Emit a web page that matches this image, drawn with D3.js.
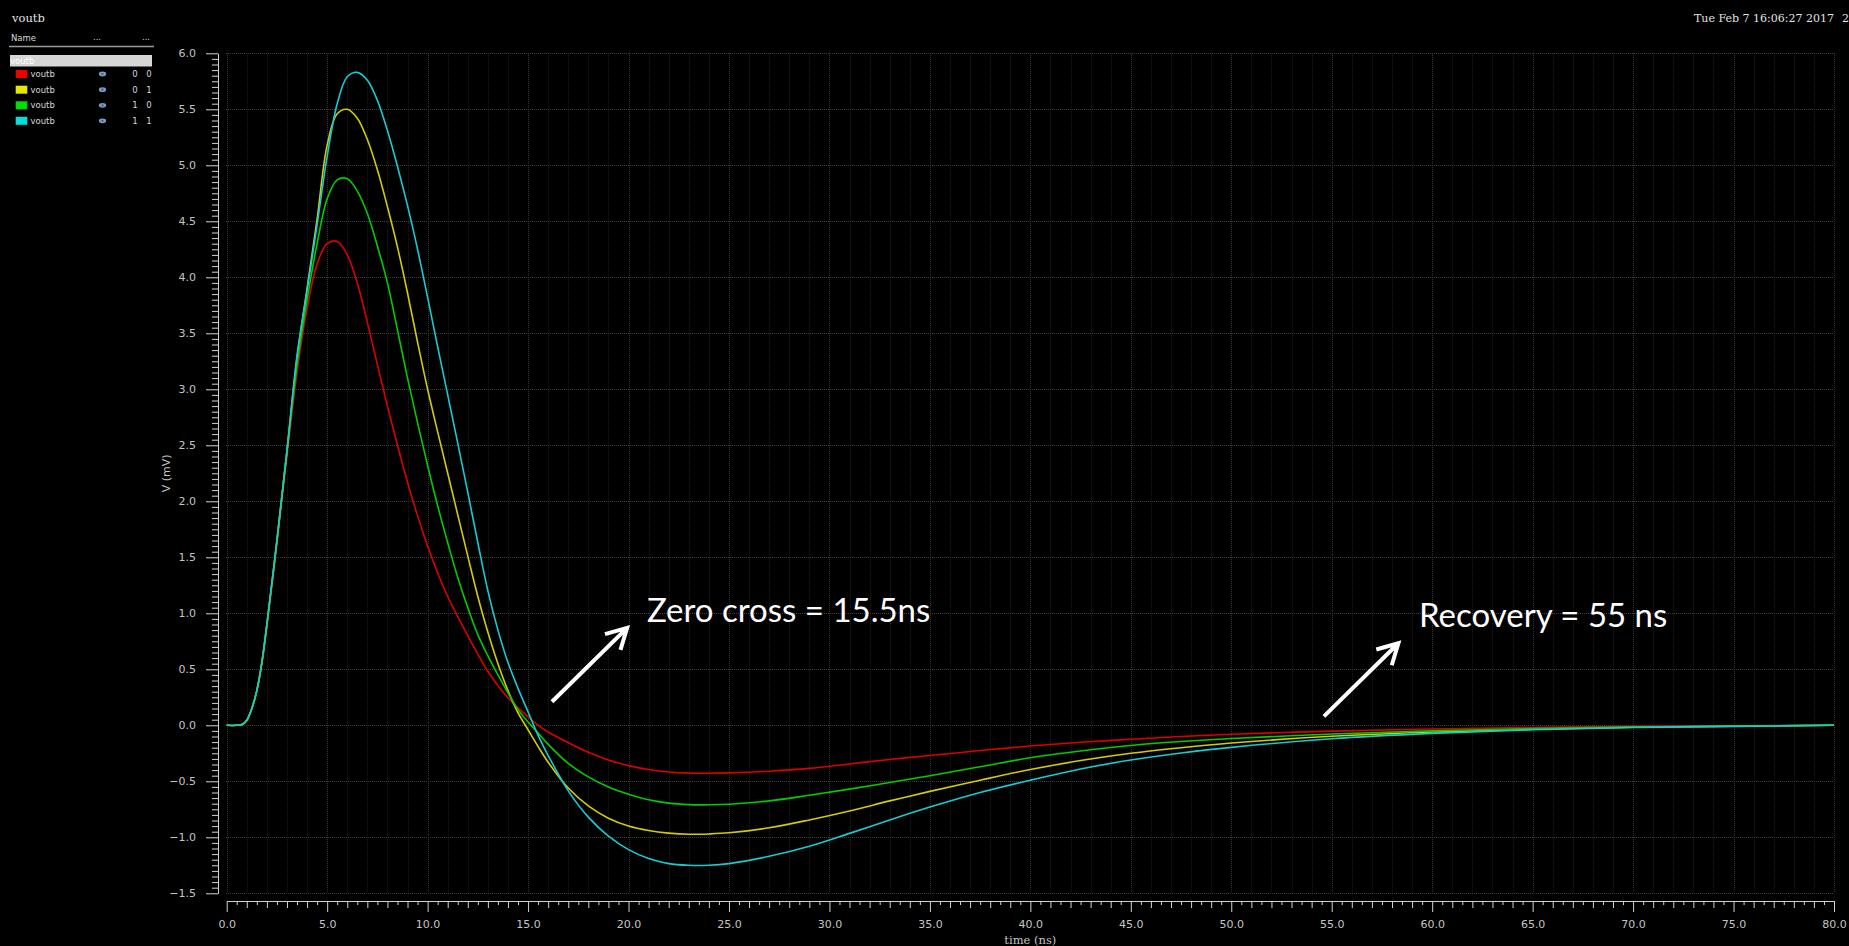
<!DOCTYPE html>
<html>
<head>
<meta charset="utf-8">
<title>voutb</title>
<script src="https://cdn.jsdelivr.net/npm/d3@7"></script>
<style>
  html, body { margin: 0; padding: 0; background: #000; overflow: hidden; }
  svg { display: block; }
</style>
</head>
<body>
<svg id="chart" width="1849" height="946"></svg>
<script>
// ---- waveform samples: time (ns) and voutb (mV) for each sweep corner ----
const timeNs = [0, 0.5, 0.8, 1.0, 1.25, 1.5, 1.75, 2.0, 2.5, 3.0, 3.5, 4.0, 4.5, 5.0, 5.5, 6.0, 6.5, 7.0, 7.5, 8.0,
  8.5, 9.0, 9.5, 10, 10.5, 11, 11.5, 12, 12.5, 13, 13.5, 14, 14.5, 15, 15.5, 16, 17, 18, 19, 20,
  21, 22, 23, 24, 25, 27, 29, 31, 33, 35, 37.5, 40, 42.5, 45, 47.5, 50, 55, 60, 65, 70, 75, 80];

const voutb00 = [0, 0, 0.01, 0.045, 0.15, 0.31, 0.55, 0.88, 1.62, 2.4, 3.15, 3.72, 4.12, 4.30, 4.32, 4.2, 3.95, 3.6, 3.22, 2.85,
  2.5, 2.17, 1.87, 1.6, 1.36, 1.15, 0.97, 0.8, 0.635, 0.48, 0.355, 0.245, 0.155, 0.075, 0.0, -0.06, -0.155, -0.24, -0.31, -0.36,
  -0.395, -0.417, -0.427, -0.428, -0.425, -0.41, -0.385, -0.345, -0.305, -0.27, -0.225, -0.185, -0.152, -0.125, -0.1, -0.08, -0.052, -0.033, -0.02, -0.01, -0.005, 0];

const voutb01 = [0, 0, 0.01, 0.045, 0.15, 0.31, 0.56, 0.9, 1.65, 2.45, 3.28, 3.9, 4.52, 5.18, 5.46, 5.5, 5.42, 5.23, 4.96, 4.63,
  4.27, 3.86, 3.42, 3.0, 2.62, 2.25, 1.88, 1.51, 1.15, 0.83, 0.55, 0.31, 0.11, -0.04, -0.19, -0.33, -0.56, -0.72, -0.83, -0.9,
  -0.94, -0.963, -0.973, -0.97, -0.96, -0.915, -0.845, -0.765, -0.675, -0.59, -0.49, -0.395, -0.315, -0.25, -0.2, -0.158, -0.098, -0.06, -0.035, -0.018, -0.008, 0];

const voutb10 = [0, 0, 0.01, 0.045, 0.15, 0.31, 0.56, 0.9, 1.65, 2.45, 3.22, 3.8, 4.3, 4.7, 4.87, 4.88, 4.77, 4.57, 4.28, 3.95,
  3.53, 3.1, 2.7, 2.32, 1.96, 1.63, 1.32, 1.05, 0.81, 0.62, 0.45, 0.29, 0.14, 0.03, -0.07, -0.17, -0.34, -0.46, -0.55, -0.615,
  -0.665, -0.695, -0.708, -0.71, -0.705, -0.675, -0.625, -0.57, -0.51, -0.45, -0.37, -0.29, -0.23, -0.18, -0.145, -0.118, -0.078, -0.05, -0.03, -0.016, -0.007, 0];

const voutb11 = [0, 0, 0.01, 0.045, 0.15, 0.31, 0.56, 0.9, 1.65, 2.45, 3.3, 3.88, 4.47, 5.08, 5.55, 5.79, 5.83, 5.76, 5.58, 5.31,
  4.99, 4.64, 4.25, 3.82, 3.38, 2.95, 2.52, 2.08, 1.63, 1.2, 0.85, 0.56, 0.33, 0.12, -0.09, -0.27, -0.585, -0.82, -0.99, -1.11,
  -1.19, -1.235, -1.25, -1.25, -1.235, -1.17, -1.08, -0.965, -0.845, -0.73, -0.6, -0.49, -0.39, -0.31, -0.248, -0.197, -0.12, -0.072, -0.04, -0.02, -0.01, 0];

// sweep parameter values shown in the browser panel
const sweepParams = [["0", "0"], ["0", "1"], ["1", "0"], ["1", "1"]];
const signalName = "voutb";

// axis tick values
const xMajorTicks = [0, 5, 10, 15, 20, 25, 30, 35, 40, 45, 50, 55, 60, 65, 70, 75, 80];
const yMajorTicks = [-1.5, -1.0, -0.5, 0.0, 0.5, 1.0, 1.5, 2.0, 2.5, 3.0, 3.5, 4.0, 4.5, 5.0, 5.5, 6.0];

// annotation anchors in data units (ns, mV)
const notes = [
  { text: "Zero cross = 15.5ns", tail: [16.19, 0.21], tip: [19.93, 0.87], at: [20.92, 0.922] },
  { text: "Recovery = 55 ns",    tail: [54.61, 0.08], tip: [58.32, 0.733], at: [59.34, 0.875] }
];

// ---- drawing ----
const seriesColors = ["#dc0000", "#d4cc00", "#00cc00", "#14ccd4"];
const swatchColors = ["#ee0000", "#e6e600", "#00e000", "#00dede"];
const series = [voutb00, voutb01, voutb10, voutb11].map((vals, i) => ({
  params: sweepParams[i],
  color: seriesColors[i],
  points: timeNs.map((t, k) => ({ t, v: vals[k] }))
}));

const svg = d3.select("#chart");
svg.append("rect").attr("width", 1849).attr("height", 946).attr("fill", "#000");

const x = d3.scaleLinear().domain([0, 80]).range([226.7, 1834]);
const y = d3.scaleLinear().domain([-1.5, 6]).range([893.3, 53.3]);

const tickFont = "DejaVu Sans, sans-serif";
const serifFont = "DejaVu Serif, serif";
const axisColor = "#d2d2d2";
const labelColor = "#c4c4c4";

// dotted grid
const grid = svg.append("g").attr("shape-rendering", "crispEdges");
const nsGrid = d3.range(0, 81, 1);
grid.selectAll("line.vg").data(nsGrid).join("line")
  .attr("class", "vg")
  .attr("x1", d => Math.round(x(d)) + 0.5).attr("x2", d => Math.round(x(d)) + 0.5)
  .attr("y1", y(6)).attr("y2", y(-1.5))
  .attr("stroke", d => d % 5 === 0 ? "#323232" : "#1d1d1d")
  .attr("stroke-dasharray", "1,1");
grid.selectAll("line.hg").data(yMajorTicks).join("line")
  .attr("class", "hg")
  .attr("x1", x(0) - 1).attr("x2", x(80))
  .attr("y1", d => Math.round(y(d)) + 0.5).attr("y2", d => Math.round(y(d)) + 0.5)
  .attr("stroke", "#3e3e3e")
  .attr("stroke-dasharray", "1,1");

function styleAxis(g, showDomain) {
  g.attr("font-family", tickFont).attr("font-size", 11);
  g.selectAll(".tick line").attr("stroke", axisColor);
  g.selectAll(".tick text").attr("fill", labelColor);
  if (showDomain) g.select(".domain").attr("stroke", axisColor);
  else g.select(".domain").remove();
}

// x axis (ns)
const xAxisY = 901;
const halfNs = d3.range(0.5, 80, 1);
const wholeNs = d3.range(1, 80).filter(d => d % 5 !== 0);
svg.append("g").attr("transform", `translate(0,${xAxisY})`)
  .call(d3.axisBottom(x).tickValues(halfNs).tickSize(4).tickFormat(""))
  .call(g => styleAxis(g, false));
svg.append("g").attr("transform", `translate(0,${xAxisY})`)
  .call(d3.axisBottom(x).tickValues(wholeNs).tickSize(7).tickFormat(""))
  .call(g => styleAxis(g, false));
svg.append("g").attr("transform", `translate(0,${xAxisY})`)
  .call(d3.axisBottom(x).tickValues(xMajorTicks).tickSize(11).tickSizeOuter(0).tickPadding(8).tickFormat(d3.format(".1f")))
  .call(g => styleAxis(g, true));

// y axis (mV)
const yAxisX = 218;
const minorMv = d3.range(0, 151).map(i => -1.5 + i * 0.05).filter(v => Math.abs(v * 2 - Math.round(v * 2)) > 1e-6);
svg.append("g").attr("transform", `translate(${yAxisX},0)`)
  .call(d3.axisLeft(y).tickValues(minorMv).tickSize(6).tickFormat(""))
  .call(g => styleAxis(g, false));
svg.append("g").attr("transform", `translate(${yAxisX},0)`)
  .call(d3.axisLeft(y).tickValues(yMajorTicks).tickSize(12).tickSizeOuter(0).tickPadding(10).tickFormat(d3.format(".1f")))
  .call(g => styleAxis(g, true));

// axis titles
svg.append("text")
  .attr("transform", `translate(167,${(y(6) + y(-1.5)) / 2}) rotate(-90)`)
  .attr("text-anchor", "middle").attr("dominant-baseline", "middle")
  .attr("font-family", tickFont).attr("font-size", 11).attr("fill", labelColor)
  .text("V (mV)");
svg.append("text")
  .attr("x", (x(0) + x(80)) / 2).attr("y", 944)
  .attr("text-anchor", "middle")
  .attr("font-family", serifFont).attr("font-size", 11.5).attr("fill", labelColor)
  .text("time (ns)");

// waveforms
const line = d3.line().x(d => x(d.t)).y(d => y(d.v)).curve(d3.curveCatmullRom.alpha(0.5));
svg.append("g").selectAll("path").data(series).join("path")
  .attr("d", d => line(d.points))
  .attr("fill", "none")
  .attr("stroke", d => d.color)
  .attr("stroke-width", 1.6)
  .attr("stroke-linejoin", "round");

// annotations: arrow + label
const ann = svg.append("g");
notes.forEach(n => {
  const x0 = x(n.tail[0]), y0 = y(n.tail[1]);
  const x1 = x(n.tip[0]), y1 = y(n.tip[1]);
  const ang = Math.atan2(y0 - y1, x0 - x1);
  const headLen = 23, spread = 0.5;
  const hx1 = x1 + headLen * Math.cos(ang + spread), hy1 = y1 + headLen * Math.sin(ang + spread);
  const hx2 = x1 + headLen * Math.cos(ang - spread), hy2 = y1 + headLen * Math.sin(ang - spread);
  ann.append("path")
    .attr("d", `M${x0},${y0}L${x1},${y1}M${hx1},${hy1}L${x1},${y1}L${hx2},${hy2}`)
    .attr("fill", "none").attr("stroke", "#fff").attr("stroke-width", 4)
    .attr("stroke-linejoin", "miter");
  ann.append("text")
    .attr("x", x(n.at[0])).attr("y", y(n.at[1]))
    .attr("font-family", "Lato, 'Open Sans', sans-serif").attr("font-size", 33)
    .attr("fill", "#fff")
    .text(n.text);
});

// header: signal title and timestamp
svg.append("text").attr("x", 12).attr("y", 22)
  .attr("font-family", serifFont).attr("font-size", 11.5).attr("fill", "#e2e2e2")
  .text(signalName);
svg.append("text").attr("x", 1694).attr("y", 22)
  .attr("font-family", serifFont).attr("font-size", 11).attr("fill", "#e2e2e2")
  .text("Tue Feb 7 16:06:27 2017");
svg.append("text").attr("x", 1842).attr("y", 22)
  .attr("font-family", serifFont).attr("font-size", 11).attr("fill", "#e2e2e2")
  .text("2");

// browser panel with the sweep list
const panel = svg.append("g").attr("font-family", tickFont).attr("font-size", 8.5).attr("fill", "#d8d8d8");
panel.append("text").attr("x", 11).attr("y", 41).text("Name");
panel.append("text").attr("x", 97).attr("y", 40).attr("text-anchor", "middle").text("...");
panel.append("text").attr("x", 146).attr("y", 40).attr("text-anchor", "middle").text("...");
panel.append("line").attr("x1", 9).attr("x2", 154).attr("y1", 46.5).attr("y2", 46.5)
  .attr("stroke", "#9a9a9a").attr("stroke-width", 1.5);
panel.append("rect").attr("x", 10).attr("y", 55).attr("width", 142).attr("height", 11.5).attr("fill", "#d6d6d6");
panel.append("text").attr("x", 10).attr("y", 64).attr("fill", "#ffffff").text(signalName);

const rowY = [74, 89.7, 105.3, 120.8];
const rows = panel.selectAll("g.row").data(series).join("g")
  .attr("class", "row")
  .attr("transform", (d, i) => `translate(0,${rowY[i]})`);
rows.append("rect").attr("x", 15.7).attr("y", -4).attr("width", 11.6).attr("height", 8)
  .attr("fill", (d, i) => swatchColors[i]);
rows.append("text").attr("x", 30.5).attr("y", 3).text(signalName);
rows.append("ellipse").attr("cx", 102.5).attr("cy", 0).attr("rx", 3.6).attr("ry", 2.4).attr("fill", "#7e9cc2");
rows.append("circle").attr("cx", 102.5).attr("cy", 0).attr("r", 1.1).attr("fill", "#3c5a80");
rows.append("text").attr("x", 135).attr("y", 3).attr("text-anchor", "middle").text(d => d.params[0]);
rows.append("text").attr("x", 149).attr("y", 3).attr("text-anchor", "middle").text(d => d.params[1]);
</script>
</body>
</html>
